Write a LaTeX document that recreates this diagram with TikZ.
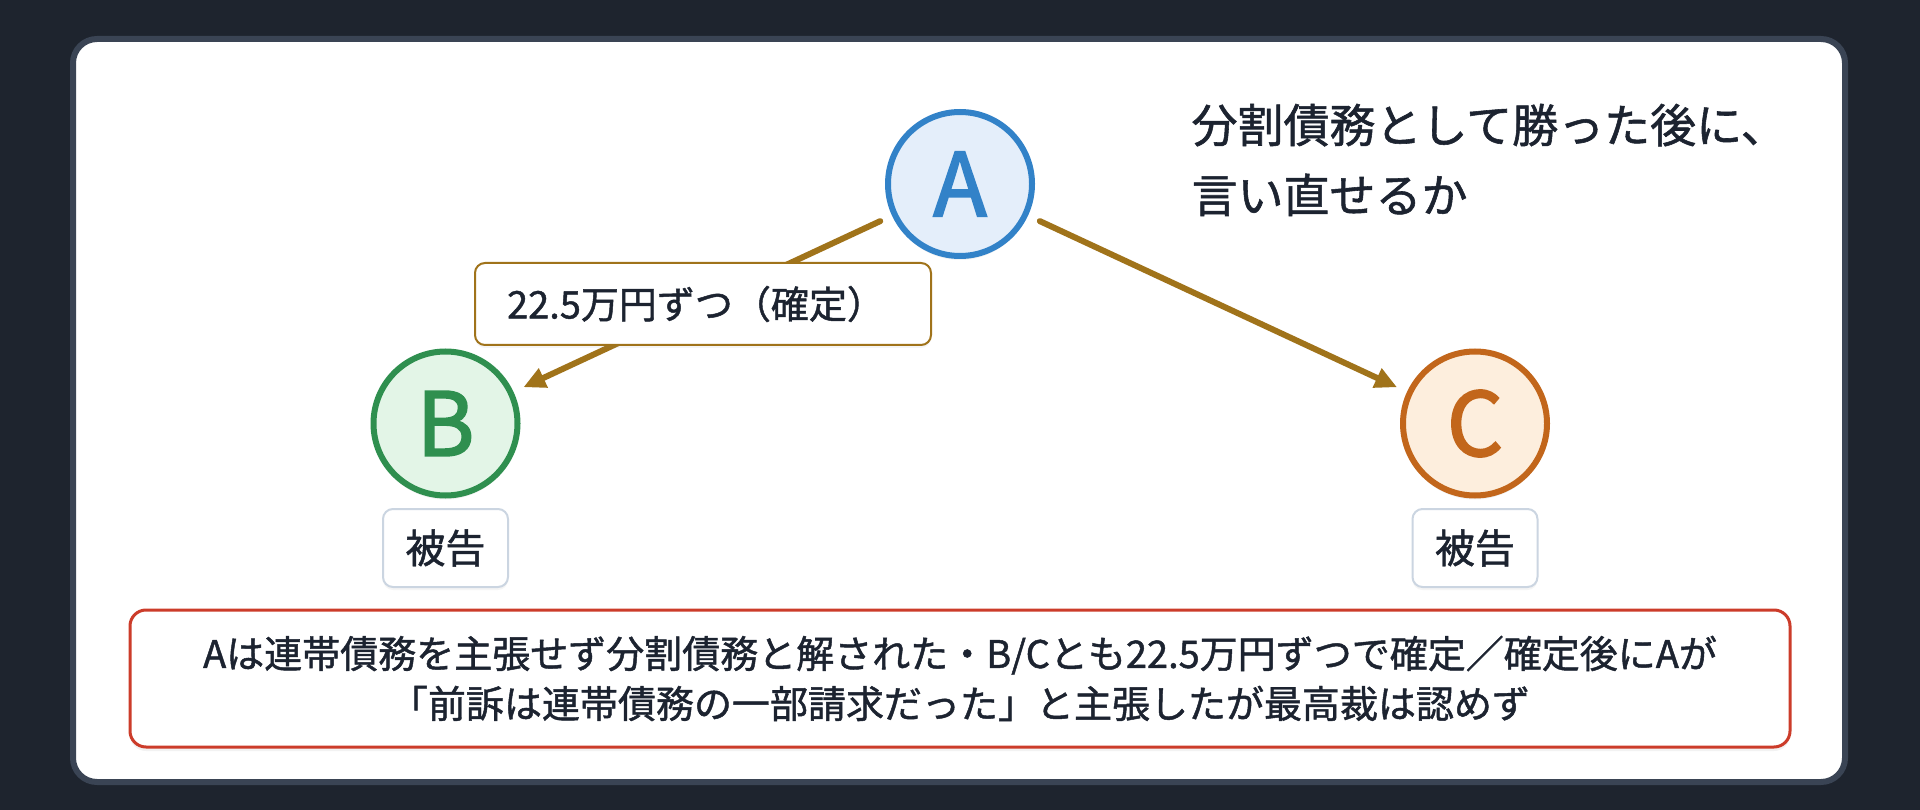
\documentclass[tikz,border=0pt]{standalone}
\usepackage{fontspec}
\setmainfont{Noto Sans CJK JP}[FakeBold=1.2,BoldFont={Noto Sans CJK JP},BoldFeatures={FakeBold=2.2}]
\usetikzlibrary{arrows.meta,shadows}
\definecolor{bgdark}{HTML}{1E242E}
\definecolor{cardedge}{HTML}{3A4454}
\definecolor{txt}{HTML}{1C2330}
\definecolor{aline}{HTML}{3282C8}
\definecolor{afill}{HTML}{E4EEFA}
\definecolor{bline}{HTML}{2F8F4F}
\definecolor{bfill}{HTML}{E3F5E7}
\definecolor{cline}{HTML}{C2661B}
\definecolor{cfill}{HTML}{FDEEDD}
\definecolor{arrowc}{HTML}{A0731A}
\definecolor{redc}{HTML}{CC3C2A}
\definecolor{grayedge}{HTML}{CBD5E1}
\tikzset{
  party/.style={circle, line width=6pt, minimum size=144pt, inner sep=0pt, outer sep=0pt,
    font=\fontsize{88}{88}\selectfont\bfseries,
    drop shadow={opacity=0.10, shadow xshift=0pt, shadow yshift=-4pt}},
  rolebox/.style={draw=grayedge, line width=2pt, fill=white, rounded corners=10pt,
    minimum width=125pt, minimum height=78pt, inner sep=0pt, text=txt,
    font=\fontsize{40}{40}\selectfont,
    drop shadow={opacity=0.08, shadow xshift=0pt, shadow yshift=-3pt}},
  edgelbl/.style={draw=arrowc, line width=2pt, fill=white, rounded corners=10pt,
    minimum width=456pt, minimum height=82pt, inner sep=0pt, text=txt,
    font=\fontsize{38}{38}\selectfont,
    drop shadow={opacity=0.08, shadow xshift=0pt, shadow yshift=-3pt}},
  notebox/.style={draw=redc, line width=3pt, fill=white, rounded corners=16pt,
    minimum width=1660pt, minimum height=137pt, inner sep=0pt, text=txt, align=center,
    font=\fontsize{38}{50}\selectfont,
    drop shadow={opacity=0.10, shadow xshift=0pt, shadow yshift=-4pt}},
  flow/.style={draw=arrowc, line width=6pt, line cap=round,
    -{Triangle[length=22pt,width=20pt]}, shorten <=16pt, shorten >=14pt},
}
\begin{document}
\begin{tikzpicture}[x=1pt,y=-1pt]
\useasboundingbox (0,0) rectangle (1920,810);
\fill[bgdark] (0,0) rectangle (1920,810);
\filldraw[fill=white, draw=cardedge, line width=6pt, rounded corners=24pt] (73,39) rectangle (1845,782);

\node[party, draw=aline, fill=afill, text=aline] (A) at (960,184) {A};
\node[party, draw=bline, fill=bfill, text=bline] (B) at (445.5,423.5) {B};
\node[party, draw=cline, fill=cfill, text=cline] (C) at (1475,423.5) {C};

\node[rolebox] (rb) at (445.5,548) {被告};
\node[rolebox] (rc) at (1475,548) {被告};

\draw[flow] (A) -- (B);
\draw[flow] (A) -- (C);

\node[edgelbl] (lab) at (703,304) {\hspace*{-14pt}22.5万円ずつ（確定）};

\node[anchor=west, align=left, text=txt, font=\fontsize{46}{70}\selectfont] (title) at (1188,160)
  {分割債務として勝った後に、\\言い直せるか};

\node[notebox] (note) at (960,678.5)
  {Aは連帯債務を主張せず分割債務と解された・B/Cとも22.5万円ずつで確定／確定後にAが\\「前訴は連帯債務の一部請求だった」と主張したが最高裁は認めず};
\end{tikzpicture}
\end{document}
